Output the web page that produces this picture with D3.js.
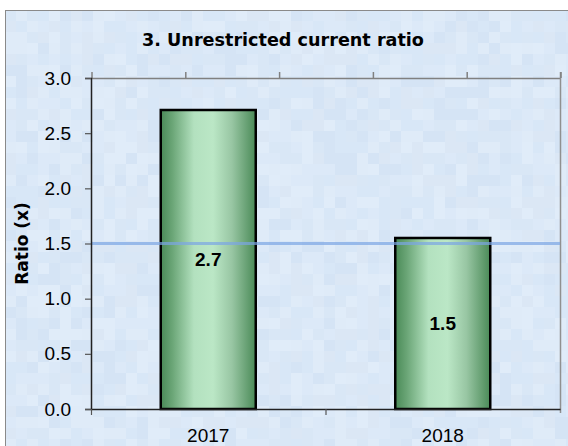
<!DOCTYPE html>
<html><head><meta charset="utf-8">
<script src="https://cdn.jsdelivr.net/npm/d3@7"></script>
<style>html,body{margin:0;padding:0;background:#fff;}svg{display:block;}</style>
</head><body>
<svg id="c" width="568" height="446"></svg>
<script>
const categories = ["2017", "2018"];
const values = [2.71, 1.55];
const valueLabels = ["2.7", "1.5"];
const yTicks = [0, 0.5, 1.0, 1.5, 2.0, 2.5, 3.0];
const benchmark = 1.5;
const title = "3. Unrestricted current ratio";
const yTitle = "Ratio (x)";

const svg = d3.select("#c");
const W = 568, H = 446;
const m = {left: 91, top: 78, right: 560, bottom: 409};
const fontR = "'Liberation Sans', Arial, sans-serif";
const fontB = "'DejaVu Sans', Verdana, sans-serif";

const defs = svg.append("defs");
const grad = defs.append("linearGradient").attr("id", "barG").attr("x1", "0").attr("x2", "1").attr("y1", "0").attr("y2", "0");
[[0, "#4a8a57"], [0.12, "#6aa576"], [0.35, "#b3e1bf"], [0.55, "#bbe7c6"], [0.75, "#98c6a3"], [1, "#4a8a57"]]
  .forEach(([o, c]) => grad.append("stop").attr("offset", o).attr("stop-color", c));

// background panel
const bg = svg.append("g");
bg.append("rect").attr("x", 5).attr("y", 10).attr("width", W - 5).attr("height", H - 10).attr("fill", "#dae8f7");
// subtle mosaic texture (deterministic)
const tile = 11;
const shades = ["#d8e7f7", "#dce9f8", "#d5e4f5", "#dfebf8", "#d9e7f6", "#dbe7f5", "#e0ecf9"];
for (let ty = 10; ty < H; ty += tile) {
  for (let tx = 5; tx < W; tx += tile) {
    const h = (Math.imul(tx + 17, 2654435761) ^ Math.imul(ty + 31, 2246822519)) >>> 0;
    bg.append("rect").attr("x", tx).attr("y", ty).attr("width", tile).attr("height", tile)
      .attr("fill", shades[(h >>> 7) % shades.length]);
  }
}
bg.append("line").attr("x1", 5.5).attr("x2", 5.5).attr("y1", 10).attr("y2", H).attr("stroke", "#8a8a8a").attr("stroke-width", 1);
bg.append("line").attr("x1", 5).attr("x2", W).attr("y1", 10.5).attr("y2", 10.5).attr("stroke", "#8a8a8a").attr("stroke-width", 1);

const x = d3.scaleBand().domain(categories).range([m.left, m.right]).paddingInner(0).paddingOuter(0);
const y = d3.scaleLinear().domain([0, 3]).range([m.bottom, m.top]);

// plot frame top & right
svg.append("line").attr("x1", m.left).attr("x2", m.right).attr("y1", m.top + 0.5).attr("y2", m.top + 0.5).attr("stroke", "#808080").attr("stroke-width", 1.5);
svg.append("line").attr("x1", m.right + 0.5).attr("x2", m.right + 0.5).attr("y1", m.top - 6).attr("y2", m.bottom + 4).attr("stroke", "#909090").attr("stroke-width", 1.5);

// top secondary ticks
const xTop = d3.scaleLinear().domain([0, 5]).range([m.left, m.right]);
const topAxis = svg.append("g").attr("transform", `translate(0.5,${m.top})`)
  .call(d3.axisTop(xTop).tickValues(d3.range(0, 6)).tickSize(6).tickFormat(""));
topAxis.select(".domain").remove();
topAxis.selectAll(".tick line").attr("stroke", "#808080").attr("stroke-width", 1.5);

// bars
const bw = 95;
svg.selectAll("rect.bar").data(values).join("rect").attr("class", "bar")
  .attr("x", (d, i) => x(categories[i]) + x.bandwidth() / 2 - bw / 2)
  .attr("y", d => y(d))
  .attr("width", bw)
  .attr("height", d => y(0) - y(d))
  .attr("fill", "url(#barG)").attr("stroke", "#000").attr("stroke-width", 2.5);

// benchmark line
svg.append("line").attr("x1", m.left).attr("x2", m.right).attr("y1", y(benchmark)).attr("y2", y(benchmark))
  .attr("stroke", "#7aa5e4").attr("stroke-opacity", 0.7).attr("stroke-width", 3);

// value labels
svg.selectAll("text.val").data(values).join("text").attr("class", "val")
  .attr("x", (d, i) => x(categories[i]) + x.bandwidth() / 2)
  .attr("y", d => (y(d) + y(0)) / 2)
  .attr("dy", "0.36em")
  .attr("text-anchor", "middle").attr("font-family", fontR).attr("font-weight", "bold").attr("font-size", 19).attr("fill", "#000")
  .text((d, i) => valueLabels[i]);

// y axis
const yAxis = svg.append("g").attr("transform", `translate(${m.left},0)`)
  .call(d3.axisLeft(y).tickValues(yTicks).tickFormat(d3.format(".1f")).tickSize(6).tickPadding(14));
yAxis.select(".domain").attr("stroke", "#222").attr("stroke-width", 1.5);
yAxis.selectAll(".tick line").attr("stroke", "#555").attr("stroke-width", 1.2);
yAxis.selectAll(".tick text").attr("font-family", fontR).attr("font-size", 19).attr("fill", "#000");

// x axis
const xAxis = svg.append("g").attr("transform", `translate(0,${m.bottom})`)
  .call(d3.axisBottom(x).tickSize(0).tickPadding(0));
xAxis.select(".domain").attr("stroke", "#222").attr("stroke-width", 1.5);
xAxis.selectAll(".tick text").attr("font-family", fontR).attr("font-size", 19).attr("fill", "#000")
  .attr("dy", null).attr("y", 33);
// category boundary ticks
svg.append("g").selectAll("line").data([m.left, x(categories[1])]).join("line")
  .attr("x1", d => d + 0.5).attr("x2", d => d + 0.5).attr("y1", m.bottom).attr("y2", m.bottom + 6)
  .attr("stroke", "#555").attr("stroke-width", 1.2);

// titles
svg.append("text").attr("x", 283).attr("y", 46).attr("text-anchor", "middle")
  .attr("font-family", fontB).attr("font-weight", "bold").attr("font-size", 17.6).attr("fill", "#000").text(title);
svg.append("text").attr("transform", `translate(28,${(m.top + m.bottom) / 2}) rotate(-90)`).attr("text-anchor", "middle")
  .attr("font-family", fontB).attr("font-weight", "bold").attr("font-size", 17).attr("fill", "#000").text(yTitle);
</script>
</body></html>
